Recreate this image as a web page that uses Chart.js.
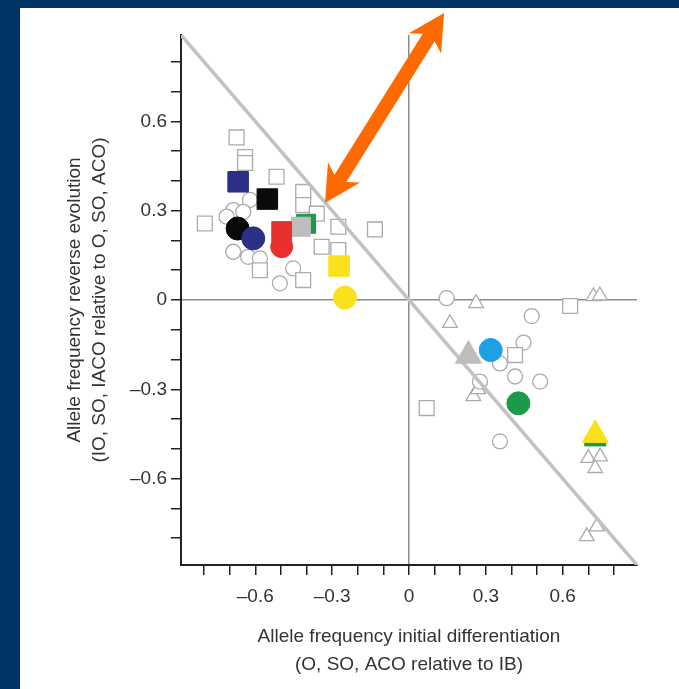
<!DOCTYPE html>
<html lang="en">
<head>
  <meta charset="UTF-8" />
  <title>Allele frequency reverse evolution</title>
  <script src="https://cdn.jsdelivr.net/npm/chart.js"></script>
  <style>
    body { margin: 0; background: #003366; width: 679px; height: 689px; overflow: hidden; }
    #panel { position: absolute; left: 20px; top: 8px; width: 659px; height: 681px; background: #fff; }
  </style>
</head>
<body>
  <div id="panel">
    <canvas id="chart" width="659" height="681"></canvas>
  </div>

  <script>
    // axis range and ticks
    const axisMin = -0.89;
    const axisMax = 0.89;
    const tickValues = [-0.8, -0.7, -0.6, -0.5, -0.4, -0.3, -0.2, -0.1, 0, 0.1, 0.2, 0.3, 0.4, 0.5, 0.6, 0.7, 0.8];

    // open (background) markers, [x, y]
    const openSquares = [
      [-0.673, 0.546], [-0.64, 0.48], [-0.64, 0.46], [-0.517, 0.414], [-0.413, 0.363],
      [-0.413, 0.319], [-0.36, 0.29], [-0.797, 0.257], [-0.276, 0.246], [-0.133, 0.237],
      [-0.341, 0.179], [-0.276, 0.168], [-0.582, 0.10], [-0.413, 0.067],
      [0.414, -0.185], [0.069, -0.363], [0.629, -0.02]
    ];
    const openCircles = [
      [-0.621, 0.336], [-0.686, 0.302], [-0.712, 0.28], [-0.647, 0.296], [-0.686, 0.162],
      [-0.628, 0.145], [-0.582, 0.14], [-0.452, 0.106], [-0.504, 0.056],
      [0.147, 0.006], [0.479, -0.054], [0.447, -0.143], [0.355, -0.213], [0.414, -0.257],
      [0.512, -0.274], [0.277, -0.274], [0.355, -0.475]
    ];
    const openTriangles = [
      [0.262, -0.011], [0.16, -0.078], [0.251, -0.324], [0.27, -0.30], [0.72, 0.012],
      [0.745, 0.015], [0.70, -0.531], [0.746, -0.526], [0.727, -0.565], [0.694, -0.794],
      [0.733, -0.761]
    ];

    // highlighted markers, back to front
    const filledNames = [
      "navy square", "black square", "green square", "gray square", "red circle", "red square",
      "black circle", "navy circle", "yellow square", "yellow circle", "gray triangle",
      "blue circle", "green circle", "green bar", "yellow triangle"
    ];
    const filledX = [-0.667, -0.553, -0.402, -0.422, -0.497, -0.497, -0.669, -0.608, -0.273, -0.25, 0.232, 0.319, 0.427, 0.727, 0.727];
    const filledY = [0.397, 0.339, 0.256, 0.246, 0.179, 0.23, 0.24, 0.207, 0.114, 0.008, -0.187, -0.168, -0.347, -0.485, -0.453];

    // orange double arrow ends (data units)
    const arrowFrom = [-0.328, 0.326];
    const arrowTo = [0.137, 0.964];

    const markerStyle = {
      "navy square":     { shape: "rect", color: "#2b2f86", r: 14.5 },
      "black square":    { shape: "rect", color: "#0a0a0a", r: 14.5 },
      "green square":    { shape: "rect", color: "#1c9a4c", r: 13.5 },
      "gray square":     { shape: "rect", color: "#bdbdbd", r: 13.5 },
      "red circle":      { shape: "circle", color: "#e8312f", r: 11 },
      "red square":      { shape: "rect", color: "#e8312f", r: 14 },
      "black circle":    { shape: "circle", color: "#0a0a0a", r: 11.5 },
      "navy circle":     { shape: "circle", color: "#2b2f86", r: 11.5 },
      "yellow square":   { shape: "rect", color: "#f9e11e", r: 14.5 },
      "yellow circle":   { shape: "circle", color: "#f9e11e", r: 11.5 },
      "gray triangle":   { shape: "triangle", color: "#bdbdbd", r: 15 },
      "blue circle":     { shape: "circle", color: "#1da1e4", r: 11.5 },
      "green circle":    { shape: "circle", color: "#1c9a4c", r: 11.5 },
      "green bar":       { shape: "line", color: "#1c9a4c", r: 11, width: 4 },
      "yellow triangle": { shape: "triangle", color: "#f9e11e", r: 15 }
    };

    Chart.defaults.font.family = "'Liberation Sans', Arial, sans-serif";

    const toPoints = arr => arr.map(p => ({ x: p[0], y: p[1] }));

    function openSet(arr, shape, r) {
      return {
        data: toPoints(arr),
        pointStyle: shape,
        pointRadius: r,
        pointBackgroundColor: "#ffffff",
        pointBorderColor: "#ababab",
        pointBorderWidth: 1.3,
        order: 10
      };
    }

    const datasets = [];
    filledNames.forEach((name, i) => {
      const s = markerStyle[name];
      datasets.push({
        data: [{ x: filledX[i], y: filledY[i] }],
        pointStyle: s.shape,
        pointRadius: s.r,
        pointBackgroundColor: s.color,
        pointBorderColor: s.color,
        pointBorderWidth: s.width || 1,
        order: -i
      });
    });
    datasets.push({
      type: "line",
      data: [{ x: axisMin, y: -axisMin }, { x: axisMax, y: -axisMax }],
      borderColor: "#c2c2c2",
      borderWidth: 3.5,
      pointRadius: 0,
      order: 5
    });
    datasets.push(openSet(openSquares, "rect", 10.5));
    datasets.push(openSet(openCircles, "circle", 7.5));
    datasets.push(openSet(openTriangles, "triangle", 8.5));

    function tickLabel(value) {
      const k = Math.round(value * 10);
      if (k % 3 !== 0) return "";
      if (k === 0) return "0";
      return (k < 0 ? "\u2013" : "") + (Math.abs(k) / 10).toFixed(1);
    }

    function axisOptions(isX) {
      return {
        type: "linear",
        position: isX ? "bottom" : "left",
        min: axisMin,
        max: axisMax,
        afterBuildTicks: scale => { scale.ticks = tickValues.map(v => ({ value: v })); },
        afterFit: scale => {
          if (isX) scale.height = 124; else scale.width = 161;
        },
        ticks: {
          callback: tickLabel,
          autoSkip: false,
          maxRotation: 0,
          color: "#333",
          font: { size: 19 },
          padding: isX ? 10 : 4
        },
        grid: {
          color: c => (c.tick && Math.abs(c.tick.value) < 1e-9) ? "#8c8c8c" : "rgba(0,0,0,0)",
          lineWidth: 1.5,
          tickLength: 10,
          tickColor: "#222",
          tickWidth: 1.5
        },
        border: { display: true, color: "#222", width: 2 },
        title: isX ? {
          display: true,
          text: ["Allele frequency initial differentiation", "(O, SO, ACO relative to IB)"],
          color: "#333",
          font: { size: 19, lineHeight: 1.474 },
          padding: { top: 0, bottom: 10 }
        } : {
          display: true,
          text: ["Allele frequency reverse evolution", "(IO, SO, IACO relative to O, SO, ACO)"],
          color: "#333",
          font: { size: 19, lineHeight: 1.316 },
          padding: { top: 42.5, bottom: 0 }
        }
      };
    }

    const arrowPlugin = {
      id: "arrow",
      afterDraw(chart) {
        const { ctx } = chart;
        const xs = chart.scales.x, ys = chart.scales.y;
        const ax = xs.getPixelForValue(arrowFrom[0]), ay = ys.getPixelForValue(arrowFrom[1]);
        const bx = xs.getPixelForValue(arrowTo[0]), by = ys.getPixelForValue(arrowTo[1]);
        const len = Math.hypot(bx - ax, by - ay);
        const ux = (bx - ax) / len, uy = (by - ay) / len;
        const nx = -uy, ny = ux;
        const h = 36, w = 19, s = 7;
        const p = (base, along, side) => [base[0] + ux * along + nx * side, base[1] + uy * along + ny * side];
        const A = [ax, ay], B = [bx, by];
        const pts = [
          A, p(A, h, w), p(A, h - 7, s), p(B, -h + 7, s), p(B, -h, w), B,
          p(B, -h, -w), p(B, -h + 7, -s), p(A, h - 7, -s), p(A, h, -w)
        ];
        ctx.save();
        ctx.fillStyle = "#ff6a00";
        ctx.beginPath();
        pts.forEach((pt, i) => i ? ctx.lineTo(pt[0], pt[1]) : ctx.moveTo(pt[0], pt[1]));
        ctx.closePath();
        ctx.fill();
        ctx.restore();
      }
    };

    new Chart(document.getElementById("chart"), {
      type: "scatter",
      data: { datasets },
      options: {
        responsive: false,
        animation: false,
        events: [],
        layout: { padding: { left: 0, top: 27, right: 42, bottom: 0 } },
        plugins: { legend: { display: false }, tooltip: { enabled: false } },
        scales: { x: axisOptions(true), y: axisOptions(false) }
      },
      plugins: [arrowPlugin]
    });
  </script>
</body>
</html>
